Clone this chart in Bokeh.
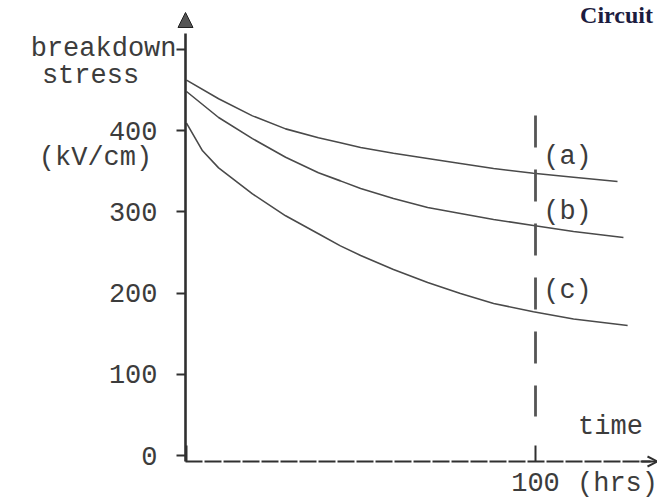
from bokeh.plotting import figure
from bokeh.models import Range1d, FixedTicker, Label, Arrow, NormalHead, OpenHead
from bokeh.embed import file_html
from bokeh.resources import INLINE

# ---- data ----
series_names = ["(a)", "(b)", "(c)"]
time_a = [0, 9.2, 18.9, 28.4, 37.8, 44.1, 49.9, 59.3, 69.1, 78.5, 88.0, 99.4, 110.9, 123.5]
stress_a = [462, 439, 418, 402, 391, 385, 379, 372, 365.5, 359.4, 353.2, 347.4, 342.5, 337.2]
time_b = [0, 9.2, 18.9, 28.4, 37.8, 44.1, 49.9, 59.3, 69.1, 78.5, 88.0, 99.4, 110.9, 125.2]
stress_b = [448, 416, 390, 367, 348, 338, 328.6, 316.3, 305.2, 297.8, 290.5, 283.1, 275.7, 268.3]
time_c = [0, 4.6, 9.2, 18.9, 28.4, 37.8, 44.1, 49.9, 59.3, 69.1, 78.5, 88.0, 99.4, 110.9, 126.4]
stress_c = [409, 375, 354, 322, 295, 273, 258, 246.2, 229, 213, 199.4, 187, 177, 168, 160]
y_ticks = [0, 100, 200, 300, 400, 500]
y_tick_labels = ["0", "100", "200", "300", "400", ""]
x_ticks = [0, 100]
x_tick_labels = ["", "100"]
marker_time = 100

# ---- geometry helpers (pixel layout of the page) ----
W, H = 657, 500
AX_L, AX_R, AX_T, AX_B = 185, 650, 33, 461   # axis line extents in page pixels
T0_PX, T_SCALE = 186, 3.49                   # px of t=0, px per hour
V0_PX, V_SCALE = 455, 0.8125                 # px of v=0, px per kV/cm


def tx(px):
    return (px - T0_PX) / T_SCALE


def vy(py):
    return (V0_PX - py) / V_SCALE


INK = "#3c3c3c"
AXC = "#303030"
FONT = "Liberation Mono"
FS = "27px"

p = figure(width=W, height=H, output_backend="svg", toolbar_location=None,
           x_range=Range1d(tx(0), tx(W)), y_range=Range1d(vy(H), vy(0)),
           min_border=0)
p.outline_line_color = None
p.grid.visible = False
p.background_fill_color = "white"
p.border_fill_color = "white"

# y axis
ya = p.yaxis[0]
ya.fixed_location = tx(AX_L)
ya.bounds = (vy(AX_B), vy(AX_T))
ya.ticker = FixedTicker(ticks=y_ticks)
ya.major_label_overrides = {t: l for t, l in zip(y_ticks, y_tick_labels)}
ya.axis_line_width = 2.6
ya.axis_line_color = AXC
ya.major_tick_in = 0
ya.major_tick_out = 9
ya.major_tick_line_width = 2
ya.major_tick_line_color = AXC
ya.minor_tick_line_color = None
ya.major_label_standoff = 19
ya.major_label_text_font = FONT
ya.major_label_text_font_size = FS
ya.major_label_text_color = INK

# x axis
xa = p.xaxis[0]
xa.fixed_location = vy(AX_B)
xa.bounds = (tx(AX_L), tx(AX_R))
xa.ticker = FixedTicker(ticks=x_ticks)
xa.major_label_overrides = {t: l for t, l in zip(x_ticks, x_tick_labels)}
xa.axis_line_width = 2
xa.axis_line_color = AXC
xa.axis_line_dash = "17 2"
xa.major_tick_in = 16
xa.major_tick_out = 0
xa.major_tick_line_width = 2
xa.major_tick_line_color = AXC
xa.minor_tick_line_color = None
xa.major_label_standoff = 11
xa.major_label_text_font = FONT
xa.major_label_text_font_size = FS
xa.major_label_text_color = INK

# curves
for ts, vs in ((time_a, stress_a), (time_b, stress_b), (time_c, stress_c)):
    p.line(ts, vs, line_color="#4a4a4a", line_width=1.6)

# dashed marker at t = 100
p.line([marker_time, marker_time], [vy(115), vy(416)], line_color="#555555",
       line_width=2.8, line_dash="32 22")

# axis arrow heads
p.add_layout(Arrow(x_start=tx(AX_L), y_start=vy(30), x_end=tx(AX_L), y_end=vy(12),
                   line_alpha=0,
                   end=NormalHead(size=15, fill_color="#555555", line_color="#222222",
                                  line_width=1)))
p.add_layout(Arrow(x_start=tx(640), y_start=vy(AX_B), x_end=tx(657), y_end=vy(AX_B),
                   line_color=AXC, line_width=2,
                   end=OpenHead(size=10, line_color=AXC, line_width=2)))


def lab(text, px, py, align="center", font=FONT, size=FS, color=INK, style="normal"):
    p.add_layout(Label(x=tx(px), y=vy(py), text=text, text_align=align,
                       text_baseline="middle", text_font=font,
                       text_font_size=size, text_color=color,
                       text_font_style=style))


lab("breakdown", 176, 48, align="right")
lab("stress", 90, 75)
lab("(kV/cm)", 95, 157)
for name, py in zip(series_names, (156, 211, 290)):
    lab(name, 567, py)
lab("time", 610, 426)
lab("(hrs)", 617, 483)
lab("Circuit", 616, 14, font="Liberation Serif", size="24px", color="#1c1c40",
    style="bold")

open("out.html", "w").write(file_html(p, INLINE))
